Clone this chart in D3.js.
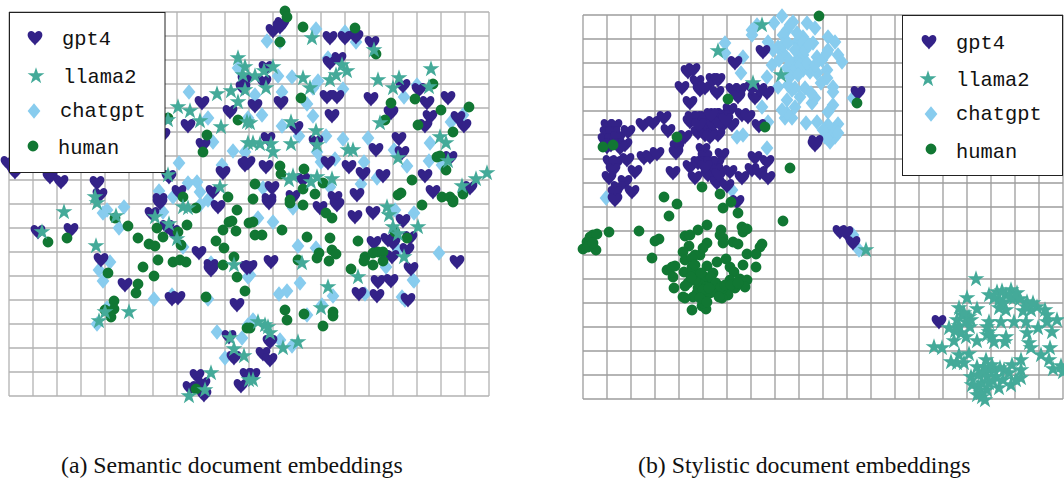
<!DOCTYPE html>
<html><head><meta charset="utf-8">
<script src="https://cdn.jsdelivr.net/npm/d3@7"></script>
<style>html,body{margin:0;padding:0;background:#fff;overflow:hidden}svg{display:block}</style>
</head><body><div id="chart"></div>
<script>
const seriesNames = ["gpt4","llama2","chatgpt","human"];
const captions = ["(a) Semantic document embeddings","(b) Stylistic document embeddings"];
const xTickValues = d3.range(0,481,24);
const yTickValues = d3.range(0,385,24);

const semanticGpt4 = [[-1,151],[6,160],[41,165],[52,170],[88,171],[91,183],[154,123],[160,165],[151,188],[170,180],[204,180],[214,161],[236,153],[193,91],[179,114],[221,100],[194,133],[236,68],[234,76],
[264,19],[273,12],[271,15],[321,26],[336,26],[347,25],[363,31],[321,51],[330,47],[257,56],[255,70],[246,94],[272,91],[318,85],[328,85],[323,104],[362,87],[394,74],[410,78],[418,91],[439,86],[382,101],[421,105],[416,114],[449,106],[455,114],[287,116],[259,127],[307,130],[390,127],[367,138],[393,141],[441,146],[257,155],[319,151],[340,155],[354,162],[374,164],[416,164],[263,176],[294,168],[284,185],[260,188],[326,186],[348,183],[424,180],[461,176],[239,151],
[29,220],[62,218],[92,248],[116,273],[143,202],[151,191],[158,215],[164,220],[190,241],[202,254],[202,258],[209,195],[163,287],[169,286],[228,293],[238,256],[220,325],[225,346],[232,374],[238,363],[188,364],[181,376],[194,372],[195,383],
[260,191],[311,196],[328,193],[346,205],[364,201],[394,209],[262,250],[241,255],[365,231],[379,228],[384,231],[401,226],[398,238],[383,245],[402,257],[369,270],[382,269],[350,282],[368,284],[399,288],[448,250],[261,330],[254,342],[261,348],[244,363]];
const semanticLlama2 = [[229,46],[236,55],[234,63],[236,78],[222,79],[229,90],[208,82],[169,95],[181,99],[191,109],[159,108],[212,115],[238,110],[239,131],[159,163],[211,175],[86,185],
[303,26],[365,38],[422,57],[264,55],[255,59],[246,64],[257,76],[294,66],[301,76],[321,68],[327,63],[333,53],[338,59],[369,68],[384,76],[390,66],[420,75],[371,111],[282,110],[307,119],[282,132],[308,133],[251,132],[262,132],[264,140],[244,131],[431,125],[437,131],[339,138],[344,138],[389,146],[439,149],[284,164],[280,168],[308,165],[302,170],[323,167],[453,174],[467,167],[478,161],[241,111],
[55,200],[33,220],[87,234],[88,191],[107,204],[146,205],[160,212],[168,227],[174,195],[179,196],[225,253],[96,300],[90,309],[120,300],[202,361],[221,326],[225,337],[235,344],[196,378],[180,384],[240,368],
[293,251],[378,195],[380,203],[384,215],[389,222],[409,215],[395,245],[349,265],[319,275],[312,296],[249,310],[256,313],[259,315],[261,321],[274,336],[289,330],[244,368]];
const semanticChatgpt = [[180,80],[199,106],[204,130],[224,139],[236,140],[229,56],[213,153],[170,151],[150,179],[179,171],[188,170],[191,180],[199,188],[164,185],[239,106],
[98,198],[94,201],[115,195],[110,216],[154,200],[191,193],[174,235],[202,251],[101,250],[90,258],[94,269],[145,287],[199,287],[163,283],[98,296],[88,312],[208,320],[233,326],[216,346],[239,313],[239,265],
[258,29],[271,30],[307,17],[336,20],[347,30],[319,46],[269,64],[283,65],[309,69],[304,76],[273,80],[334,77],[298,92],[304,104],[253,103],[246,83],[273,114],[290,124],[317,124],[334,127],[359,126],[308,140],[385,138],[326,147],[312,150],[355,150],[398,154],[421,131],[420,149],[433,153],[442,110],[454,103],[395,85],[408,73],[368,166],[352,172],[321,175],[254,176],
[249,206],[264,210],[284,196],[386,198],[405,201],[289,234],[307,236],[430,241],[291,271],[270,282],[278,279],[324,284],[356,282],[377,255],[404,268],[405,269],[393,285],[396,288],[313,293],[298,303],[244,308],[271,328],[283,334],[389,238],[241,263]];
const semanticHuman = [[159,106],[229,108],[198,123],[194,140],[174,185],[219,185],
[276,-1],[278,5],[294,15],[346,16],[271,30],[367,42],[292,86],[382,91],[406,87],[424,72],[432,98],[460,95],[376,108],[409,113],[444,120],[431,144],[428,145],[437,158],[271,154],[272,162],[295,157],[246,172],[294,177],[306,182],[314,171],[281,188],[403,168],[392,181],[389,183],[433,185],[441,185],[454,182],[444,188],[244,187],
[39,230],[58,226],[106,206],[119,214],[129,226],[140,232],[146,234],[148,216],[154,225],[169,220],[178,213],[172,233],[187,196],[214,218],[227,219],[220,210],[223,209],[228,198],[207,229],[215,236],[225,245],[214,253],[228,265],[236,279],[134,255],[149,248],[164,250],[171,248],[177,250],[145,264],[129,272],[127,281],[99,261],[105,289],[105,297],[96,298],[102,305],[197,285],[238,316],[187,377],[240,211],
[244,210],[246,223],[253,223],[273,218],[298,225],[321,226],[349,229],[398,226],[386,220],[294,193],[281,191],[317,201],[323,206],[413,193],[444,190],[310,241],[308,246],[323,238],[327,242],[320,249],[289,248],[356,245],[355,249],[364,253],[364,241],[369,240],[374,240],[374,249],[342,257],[276,298],[278,308],[295,302],[324,300],[324,304],[314,314],[241,316]];

const stylisticGpt4 = [[25,111],[32,111],[24,118],[30,118],[22,125],[29,125],[35,123],[45,117],[42,130],[37,133],[27,147],[33,148],[44,145],[30,155],[26,163],[52,157],[42,167],[35,173],[49,177],[32,178],[32,185],[60,110],[70,108],[81,103],[85,116],[102,122],[94,132],[93,138],[61,143],[67,142],[74,139],[90,158],[99,73],[105,57],[110,55],[114,67],[117,75],[122,73],[130,65],[135,65],[134,78],[152,48],[180,37],[150,75],[157,75],[155,82],[172,83],[177,75],[184,78],[169,73],[107,88],[107,107],[115,103],[120,103],[115,118],[124,112],[132,100],[139,100],[147,95],[140,110],[135,120],[149,110],[159,100],[165,102],[176,111],[120,135],[122,142],[139,140],[134,148],[130,158],[107,152],[115,148],[112,163],[125,160],[134,168],[144,171],[147,157],[159,163],[169,155],[172,143],[184,147],[177,158],[185,163],[154,187],[233,127],[232,130],[275,78],[125,112],[109,103],[119,148],[140,102],
[257,217],[263,218],[270,228],[356,307],[28,130],[24,132],[122,120],[130,110],[136,108],[128,100],[116,110],[128,148],[133,155],[122,152],[136,160],[143,105],[127,122]];
const stylisticLlama2 = [[135,36],[179,10],[198,60],[170,68],
[283,235],[393,264],[384,283],[376,293],[394,294],[386,302],[379,300],[383,307],[388,305],[374,305],[366,313],[378,318],[371,326],[351,332],[359,333],[394,326],[406,307],[406,317],[404,320],[411,327],[423,322],[422,327],[418,307],[431,307],[443,307],[444,318],[446,328],[448,333],[458,340],[467,333],[466,345],[470,354],[478,351],[480,357],[469,317],[455,313],[464,300],[464,307],[474,305],[454,292],[444,287],[443,292],[448,295],[423,295],[416,293],[406,280],[414,277],[416,285],[423,280],[428,275],[434,278],[431,283],[376,340],[368,347],[374,348],[381,348],[386,339],[388,362],[389,370],[394,352],[403,345],[406,355],[404,362],[399,368],[398,378],[404,375],[416,373],[413,362],[421,355],[428,370],[438,363],[438,355],[438,345],[426,358],[399,382],[411,355],
[381,298],[376,311],[387,312],[372,316],[383,322],[411,283],[420,287],[428,283],[437,284],[419,276],[404,312],[409,322],[401,352],[409,350],[400,358],[410,366],[417,353],[429,350],[433,365],[420,365],[395,372],[406,368],[394,380],[402,385],[395,360],[440,296],[450,288],[462,295]];
const stylisticChatgpt = [[199,1],[191,8],[210,7],[224,8],[174,10],[169,15],[169,20],[204,15],[200,20],[232,13],[220,22],[185,27],[142,28],[142,38],[160,42],[158,58],[195,32],[200,38],[190,35],[214,27],[230,28],[245,22],[252,27],[245,35],[255,40],[259,47],[234,42],[217,35],[214,45],[220,40],[189,50],[204,53],[184,62],[195,72],[210,53],[220,55],[227,57],[234,58],[244,55],[244,63],[250,72],[250,77],[209,75],[222,73],[204,85],[217,82],[232,83],[229,88],[250,90],[245,97],[202,103],[209,103],[223,108],[234,107],[255,109],[247,117],[252,122],[242,122],[247,127],[154,122],[160,120],[185,107],[179,92],[184,133],[23,183],[149,175],[270,83],[244,123],[207,62],[220,28],[217,50],[224,48],[214,18],[207,10],[212,73],[239,45],[204,98],[244,38],[200,30],
[270,220],[276,235],[206,45],[212,35],[222,35],[226,30],[205,28],[196,45],[232,50],[238,68],[250,115],[245,110],[255,118],[240,115],[212,92],[199,95],[228,78],[215,60],[205,70]];
const stylisticHuman = [[236,1],[145,84],[182,112],[94,122],[20,132],[30,130],[207,153],[119,172],[137,179],[81,182],[94,189],[148,187],[140,193],[155,198],[86,201],[200,206],[274,88],
[0,234],[4,227],[7,222],[10,220],[14,219],[7,228],[13,235],[26,217],[56,216],[72,226],[76,224],[69,243],[102,221],[107,220],[115,215],[124,210],[138,215],[137,220],[140,223],[140,228],[150,227],[155,229],[159,212],[160,217],[164,214],[179,229],[177,232],[164,239],[173,239],[173,252],[160,250],[106,231],[100,237],[102,245],[124,228],[120,233],[117,240],[112,240],[109,243],[134,247],[143,244],[124,251],[109,252],[84,255],[89,252],[92,251],[90,262],[91,273],[101,257],[105,268],[102,271],[130,258],[147,252],[151,257],[147,265],[157,264],[164,265],[162,272],[152,273],[144,277],[145,280],[139,283],[134,278],[130,273],[124,265],[119,265],[114,260],[110,255],[115,267],[127,268],[124,278],[114,278],[110,282],[102,283],[100,282],[109,295],[119,291],[123,294],[120,288],[115,273],[140,273],
[122,262],[128,262],[118,270],[123,272],[133,268],[138,272],[127,278],[120,275],[112,265],[108,262],[136,282],[142,270],[148,270],[155,268],[118,258],[112,250],[126,273],[117,283],[124,287],[5,232],[10,228]];

const W = 1064, H = 478;
const colors = {gpt4:"#332288", llama2:"#44AA99", chatgpt:"#88CCEE", human:"#117733"};
const svg = d3.select("#chart").append("svg").attr("width",W).attr("height",H).attr("viewBox",`0 0 ${W} ${H}`);

const heart = "M0,7.6C-1.3,4.6 -7.4,1.2 -7.4,-3.1C-7.4,-5.7 -5.6,-7.1 -3.8,-7.1C-2,-7.1 -0.7,-6.1 0,-4.7C0.7,-6.1 2,-7.1 3.8,-7.1C5.6,-7.1 7.4,-5.7 7.4,-3.1C7.4,1.2 1.3,4.6 0,7.6Z";
const diamond = "M0,-7.8L6.4,0L0,7.8L-6.4,0Z";
const star = d3.symbol(d3.symbolStar, 88)();
const circle = d3.symbol(d3.symbolCircle, 92)();
const shapes = {gpt4:heart, llama2:star, chatgpt:diamond, human:circle};

function panel(o){
  const g = svg.append("g").attr("class","panel");
  const x = d3.scaleLinear().domain([0,480]).range([o.x0, o.x0+480]);
  const y = d3.scaleLinear().domain([0,384]).range([o.y0, o.y0+384]);
  g.append("g").attr("transform",`translate(0,${o.y0+384})`)
     .call(d3.axisBottom(x).tickValues(xTickValues).tickSize(-384).tickFormat("").offset(0));
  g.append("g").attr("transform",`translate(${o.x0},0)`)
     .call(d3.axisLeft(y).tickValues(yTickValues).tickSize(-480).tickFormat("").offset(0));
  g.selectAll(".domain").remove();
  g.selectAll(".tick line").attr("stroke",o.grid).attr("stroke-width",1.3);
  [["chatgpt",o.chatgpt],["gpt4",o.gpt4],["human",o.human],["llama2",o.llama2]].forEach(([name,data])=>{
    g.append("g").selectAll("path").data(data).join("path")
      .attr("d",shapes[name]).attr("fill",colors[name])
      .attr("transform",d=>`translate(${x(d[0])},${y(d[1])})`);
  });
  const L = o.legend;
  g.append("rect").attr("x",L.x).attr("y",L.y).attr("width",L.w).attr("height",L.h)
    .attr("fill","#fff").attr("stroke","#222").attr("stroke-width",1);
  seriesNames.forEach((n,i)=>{
    g.append("path").attr("d",shapes[n]).attr("fill",colors[n])
      .attr("transform",`translate(${L.mx[i]},${L.my[i]})`);
    g.append("text").attr("x",L.tx[i]).attr("y",L.ty[i]).text(n)
      .attr("font-family","'Liberation Mono',monospace").attr("font-size",20.4).attr("fill","#111");
  });
  svg.append("text").attr("x",o.cap[0]).attr("y",o.cap[1]).text(o.caption)
    .attr("font-family","'Liberation Serif',serif").attr("font-size",o.capSize).attr("fill","#111");
}

panel({x0:9,y0:12,grid:"#b2b2b2",gpt4:semanticGpt4,llama2:semanticLlama2,chatgpt:semanticChatgpt,human:semanticHuman,
  legend:{x:9.5,y:12.5,w:155.5,h:160,mx:[35,36,34,33],my:[38,76,111,146],tx:[62,63,60,58],ty:[45,83,117,154]},
  caption:captions[0],cap:[61,472.5],capSize:23.8});
panel({x0:583,y0:15,grid:"#9c9c9c",gpt4:stylisticGpt4,llama2:stylisticLlama2,chatgpt:stylisticChatgpt,human:stylisticHuman,
  legend:{x:902.5,y:15.5,w:160,h:160,mx:[929,928,931,931],my:[42,79,114,149],tx:[956,956,956,956],ty:[49,86,120,158]},
  caption:captions[1],cap:[638,472.5],capSize:23.8});
</script></body></html>
